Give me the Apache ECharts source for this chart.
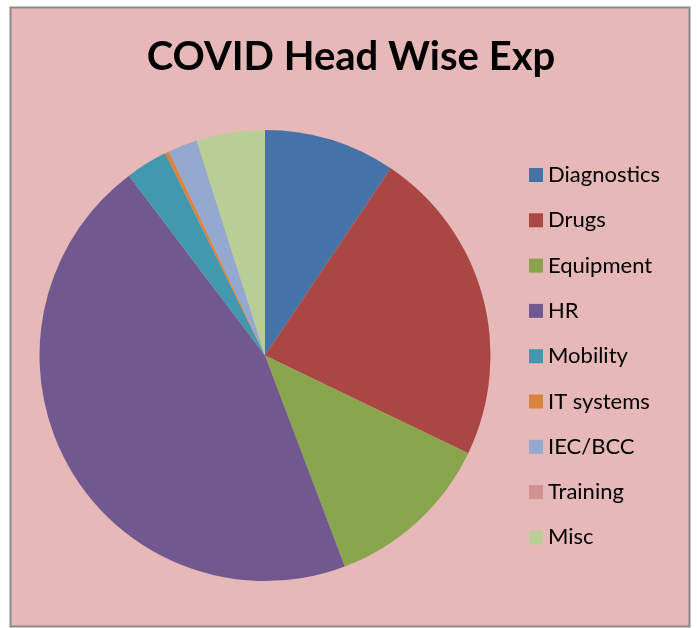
<!DOCTYPE html>
<html>
<head>
<meta charset="utf-8">
<script src="https://cdn.jsdelivr.net/npm/echarts@6/dist/echarts.min.js"></script>
<style>
html,body{margin:0;padding:0;background:#fff;}
#c{width:697px;height:628px;}
</style>
</head>
<body>
<div id="c"></div>
<script>
const titleText = 'COVID Head Wise Exp';
const categories = ['Diagnostics','Drugs','Equipment','HR','Mobility','IT systems','IEC/BCC','Training','Misc'];
const values = [9.4, 22.7, 12.1, 45.4, 3.0, 0.3, 2.1, 0, 4.9];
const colors = ['#4572A7','#AA4643','#89A54E','#71588F','#4198AF','#DB843D','#93A9CF','#D19392','#B9CD96'];

const chart = echarts.init(document.getElementById('c'), null, {renderer:'canvas'});
chart.setOption({
  backgroundColor: '#ffffff',
  animation: false,
  color: colors,
  graphic: [{
    type: 'rect', z: -10, silent: true,
    shape: {x: 10.5, y: 7.5, width: 679, height: 619},
    style: {fill: '#E6B8B7', stroke: '#898989', lineWidth: 2}
  }],
  title: {
    text: titleText,
    left: 346, top: 32, textAlign: 'center',
    textStyle: {fontFamily: 'Lato', fontWeight: 'bold', fontSize: 40, color: '#000'}
  },
  legend: {
    orient: 'vertical',
    left: 524, top: 159,
    itemWidth: 14, itemHeight: 14,
    itemGap: 23.3,
    icon: 'rect',
    data: categories,
    textStyle: {fontFamily: 'Lato', fontSize: 22, lineHeight: 22, color: '#000'}
  },
  series: [{
    type: 'pie',
    center: [265, 355.5],
    radius: 225.5,
    startAngle: 90,
    clockwise: true,
    label: {show: false},
    labelLine: {show: false},
    emphasis: {disabled: true},
    itemStyle: {borderWidth: 0},
    data: categories.map((n,i)=>({name:n, value: values[i]}))
  }]
});
</script>
</body>
</html>
